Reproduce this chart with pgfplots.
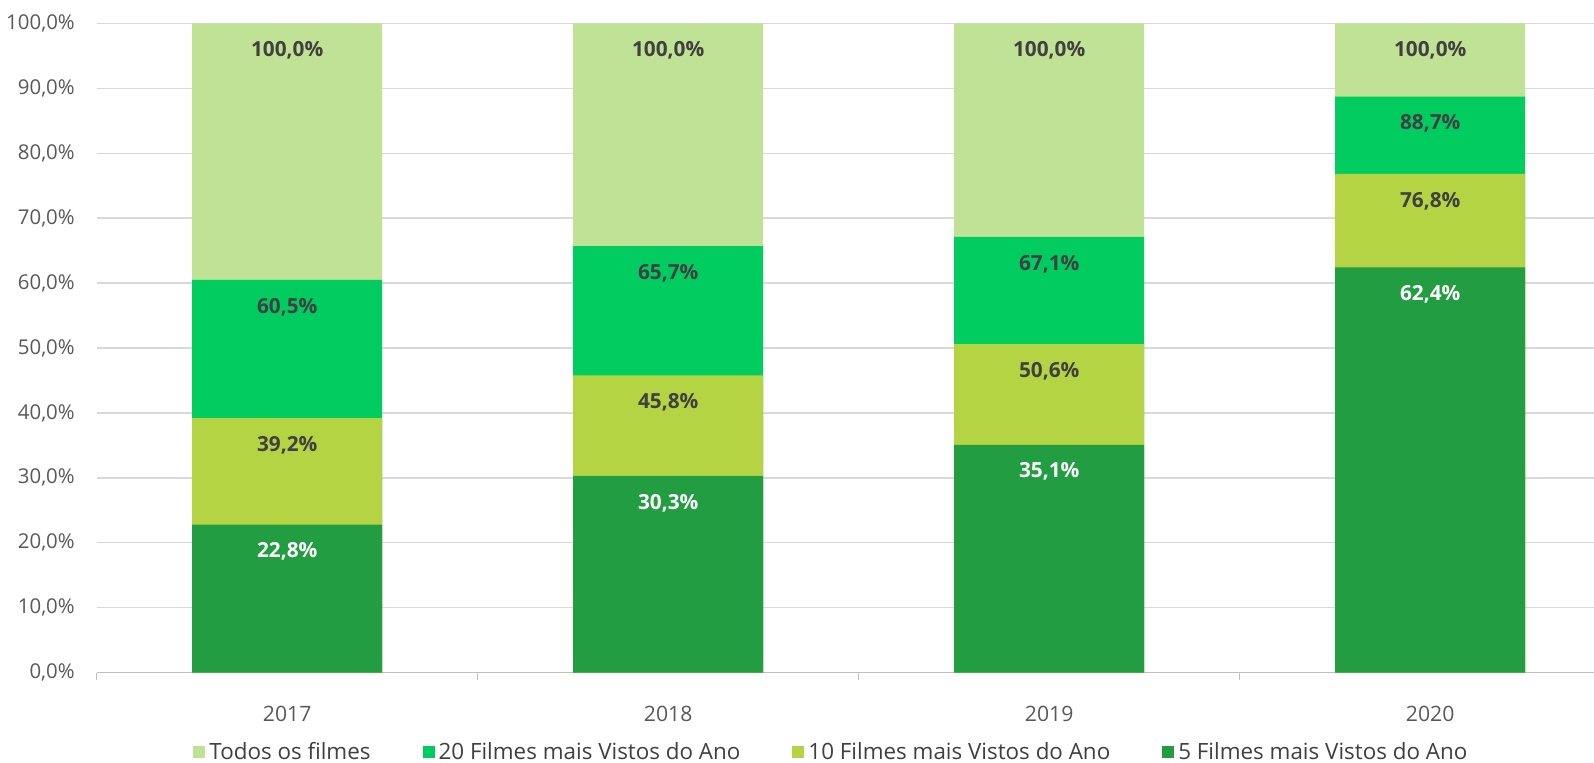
\documentclass[border=0pt]{standalone}
\usepackage{fontspec}
\setmainfont{Open Sans}
\usepackage{pgfplots}
\pgfplotsset{compat=1.18}
\definecolor{cAll}{HTML}{BFE294}
\definecolor{cTwenty}{HTML}{00CC60}
\definecolor{cTen}{HTML}{B5D443}
\definecolor{cFive}{HTML}{229D41}
\definecolor{cGrid}{HTML}{D9D9D9}
\definecolor{cAxis}{HTML}{BFBFBF}
\definecolor{cTick}{HTML}{595959}
\definecolor{cLab}{HTML}{404040}
\begin{document}
\begin{tikzpicture}
\begin{axis}[
  at={(48.35pt,45.15pt)}, anchor=south west,
  scale only axis, width=762pt, height=324.7pt,
  xmin=-0.5, xmax=3.5, ymin=0, ymax=100,
  ybar=0pt, bar width=95pt, bar shift=0pt,
  axis lines*=left,
  y axis line style={draw=none},
  x axis line style={draw=cAxis, line width=0.6pt},
  ytick={0,10,...,100},
  ytick style={draw=none},
  ymajorgrids, grid style={draw=cGrid, line width=0.65pt},
  /pgf/number format/assume math mode=true,
  yticklabel={\pgfmathprintnumber[fixed,fixed zerofill,precision=1,use comma]{\tick}\%},
  yticklabel style={font=\fontsize{10.2}{12}\selectfont, text=cTick, anchor=east, inner sep=0pt, xshift=-10.8pt},
  xtick={0,1,2,3},
  xticklabels={2017,2018,2019,2020},
  xtick style={draw=none},
  xticklabel style={font=\fontsize{10.6}{12}\selectfont, text=cTick, anchor=north, inner sep=0pt, yshift=-12pt},
  extra x ticks={-0.5,0.5,1.5,2.5,3.5},
  extra x tick labels={},
  extra x tick style={xtick style={draw=cAxis, line width=0.6pt}, major tick length=3.5pt, tick align=outside, grid=none},
  nodes near coords={\pgfmathprintnumber[fixed,fixed zerofill,precision=1,use comma]{\pgfplotspointmeta}\%},
  every node near coord/.append style={anchor=center, yshift=-13.5pt, font=\fontsize{10.4}{12}\selectfont\bfseries, text=cLab},
  legend columns=4,
  legend style={at={(0.0632,0)}, anchor=west, yshift=-39.7pt, draw=none, fill=none,
    font=\fontsize{11.2}{13}\selectfont, text=cLab, inner sep=0pt,
    /tikz/every even column/.append style={column sep=24pt}},
  legend image code/.code={\fill[#1] (0pt,-3pt) rectangle (6pt,3pt);},
]
\addplot[fill=cAll, draw=none] coordinates {(0,100) (1,100) (2,100) (3,100)};
\addlegendentry{Todos os filmes}
\addplot[fill=cTwenty, draw=none] coordinates {(0,60.5) (1,65.7) (2,67.1) (3,88.7)};
\addlegendentry{20 Filmes mais Vistos do Ano}
\addplot[fill=cTen, draw=none] coordinates {(0,39.2) (1,45.8) (2,50.6) (3,76.8)};
\addlegendentry{10 Filmes mais Vistos do Ano}
\addplot[fill=cFive, draw=none, every node near coord/.append style={text=white}] coordinates {(0,22.8) (1,30.3) (2,35.1) (3,62.4)};
\addlegendentry{5 Filmes mais Vistos do Ano}
\end{axis}
\pgfresetboundingbox
\useasboundingbox (0,0) rectangle (797pt,381.5pt);
\end{tikzpicture}
\end{document}
